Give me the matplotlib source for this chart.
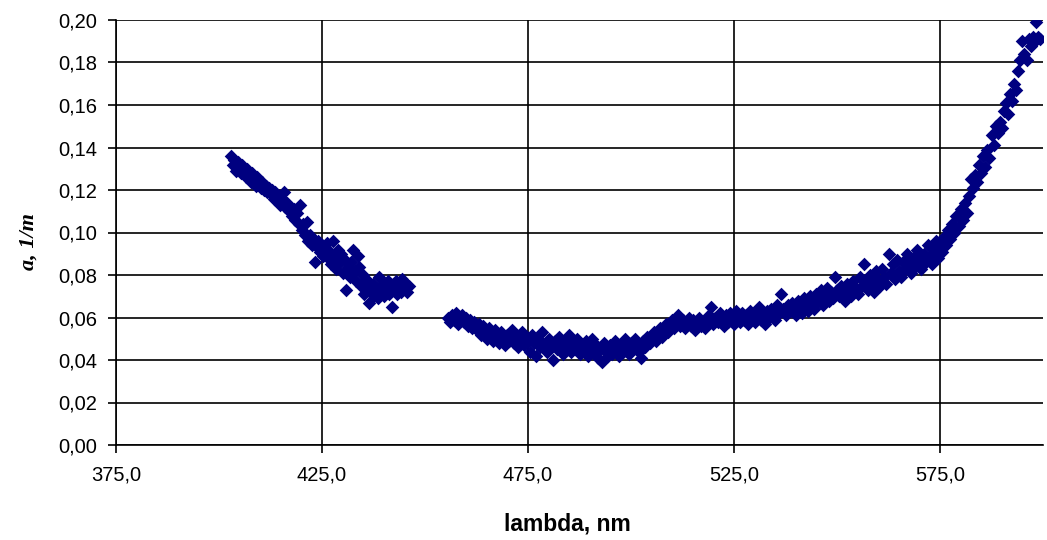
import matplotlib.pyplot as plt
from matplotlib.ticker import FuncFormatter, MultipleLocator

# absorption spectrum, two measured segments
wl_blue = [403.0, 403.3, 403.7, 404.1, 404.5, 404.9, 405.3, 405.7, 406.1, 406.5,
           406.9, 407.3, 407.7, 408.1, 408.5, 408.9, 409.3, 409.7, 410.1, 410.5,
           410.9, 411.3, 411.7, 412.1, 412.5, 412.9, 413.3, 413.7, 414.1, 414.5,
           414.9, 415.3, 415.7, 416.1, 416.5, 416.9, 417.3, 417.7, 418.1, 418.5,
           418.9, 419.3, 419.7, 420.1, 420.5, 420.9, 421.3, 421.7, 422.1, 422.5,
           422.9, 423.3, 423.7, 424.1, 424.5, 424.9, 425.3, 425.7, 426.1, 426.5,
           426.9, 427.3, 427.7, 428.1, 428.5, 428.9, 429.3, 429.7, 430.1, 430.5,
           430.9, 431.3, 431.7, 432.1, 432.5, 432.9, 433.3, 433.7, 434.1, 434.5,
           434.9, 435.3, 435.7, 436.1, 436.5, 436.9, 437.3, 437.7, 438.1, 438.5,
           438.9, 439.3, 439.7, 440.1, 440.5, 440.9, 441.3, 441.7, 442.1, 442.5,
           442.9, 443.3, 443.7, 444.1, 444.5, 444.9, 445.3, 445.7, 446.1]
a_blue = [0.136, 0.132, 0.134, 0.129, 0.133, 0.131, 0.128, 0.132, 0.129, 0.126,
          0.130, 0.127, 0.124, 0.128, 0.125, 0.122, 0.126, 0.123, 0.121, 0.124,
          0.120, 0.122, 0.119, 0.121, 0.118, 0.120, 0.116, 0.119, 0.115, 0.117,
          0.113, 0.116, 0.119, 0.112, 0.114, 0.110, 0.112, 0.108, 0.111, 0.106,
          0.109, 0.104, 0.113, 0.101, 0.104, 0.099, 0.105, 0.096, 0.099, 0.094,
          0.097, 0.086, 0.093, 0.096, 0.091, 0.094, 0.089, 0.092, 0.095, 0.088,
          0.091, 0.085, 0.096, 0.089, 0.083, 0.092, 0.086, 0.090, 0.081, 0.087,
          0.073, 0.084, 0.079, 0.086, 0.092, 0.082, 0.077, 0.089, 0.084, 0.075,
          0.080, 0.071, 0.078, 0.074, 0.067, 0.072, 0.076, 0.070, 0.074, 0.069,
          0.079, 0.072, 0.076, 0.070, 0.074, 0.077, 0.071, 0.075, 0.065, 0.073,
          0.077, 0.071, 0.075, 0.072, 0.078, 0.074, 0.076, 0.072, 0.075]

wl_main = [455.5, 456.0, 456.5, 457.0, 457.5, 458.0, 458.5, 459.0, 459.5, 460.0,
           460.5, 461.0, 461.5, 462.0, 462.5, 463.0, 463.5, 464.0, 464.5, 465.0,
           465.5, 466.0, 466.5, 467.0, 467.5, 468.0, 468.5, 469.0, 469.5, 470.0,
           470.5, 471.0, 471.5, 472.0, 472.5, 473.0, 473.5, 474.0, 474.5, 475.0,
           475.5, 476.0, 476.5, 477.0, 477.5, 478.0, 478.5, 479.0, 479.5, 480.0,
           480.5, 481.0, 481.5, 482.0, 482.5, 483.0, 483.5, 484.0, 484.5, 485.0,
           485.5, 486.0, 486.5, 487.0, 487.5, 488.0, 488.5, 489.0, 489.5, 490.0,
           490.5, 491.0, 491.5, 492.0, 492.5, 493.0, 493.5, 494.0, 494.5, 495.0,
           495.5, 496.0, 496.5, 497.0, 497.5, 498.0, 498.5, 499.0, 499.5, 500.0,
           500.5, 501.0, 501.5, 502.0, 502.5, 503.0, 503.5, 504.0, 504.5, 505.0,
           505.5, 506.0, 506.5, 507.0, 507.5, 508.0, 508.5, 509.0, 509.5, 510.0,
           510.5, 511.0, 511.5, 512.0, 512.5, 513.0, 513.5, 514.0, 514.5, 515.0,
           515.5, 516.0, 516.5, 517.0, 517.5, 518.0, 518.5, 519.0, 519.5, 520.0,
           520.5, 521.0, 521.5, 522.0, 522.5, 523.0, 523.5, 524.0, 524.5, 525.0,
           525.5, 526.0, 526.5, 527.0, 527.5, 528.0, 528.5, 529.0, 529.5, 530.0,
           530.5, 531.0, 531.5, 532.0, 532.5, 533.0, 533.5, 534.0, 534.5, 535.0,
           535.5, 536.0, 536.5, 537.0, 537.5, 538.0, 538.5, 539.0, 539.5, 540.0,
           540.5, 541.0, 541.5, 542.0, 542.5, 543.0, 543.5, 544.0, 544.5, 545.0,
           545.5, 546.0, 546.5, 547.0, 547.5, 548.0, 548.5, 549.0, 549.5, 550.0,
           550.5, 551.0, 551.5, 552.0, 552.5, 553.0, 553.5, 554.0, 554.5, 555.0,
           555.5, 556.0, 556.5, 557.0, 557.5, 558.0, 558.5, 559.0, 559.5, 560.0,
           560.5, 561.0, 561.5, 562.0, 562.5, 563.0, 563.5, 564.0, 564.5, 565.0,
           565.5, 566.0, 566.5, 567.0, 567.5, 568.0, 568.5, 569.0, 569.5, 570.0,
           570.5, 571.0, 571.5, 572.0, 572.5, 573.0, 573.5, 574.0, 574.5, 575.0,
           575.5, 576.0, 576.5, 577.0, 577.5, 578.0, 578.5, 579.0, 579.5, 580.0,
           580.5, 581.0, 581.5, 582.0, 582.5, 583.0, 583.5, 584.0, 584.5, 585.0,
           585.5, 586.0, 586.5, 587.0, 587.5, 588.0, 588.5, 589.0, 589.5, 590.0,
           590.5, 591.0, 591.5, 592.0, 592.5, 593.0, 593.5, 594.0, 594.5, 595.0,
           595.5, 596.0, 596.5, 597.0, 597.5, 598.0, 598.3, 598.8, 599.3]
a_main = [0.060, 0.058, 0.061, 0.059, 0.062, 0.057, 0.060, 0.061, 0.058, 0.060,
          0.056, 0.059, 0.055, 0.058, 0.054, 0.057, 0.052, 0.056, 0.053, 0.050,
          0.055, 0.052, 0.049, 0.054, 0.051, 0.048, 0.053, 0.050, 0.047, 0.052,
          0.049, 0.054, 0.048, 0.051, 0.046, 0.050, 0.053, 0.047, 0.051, 0.049,
          0.044, 0.052, 0.048, 0.042, 0.050, 0.046, 0.053, 0.047, 0.044, 0.050,
          0.046, 0.040, 0.049, 0.045, 0.051, 0.047, 0.043, 0.049, 0.046, 0.052,
          0.044, 0.048, 0.045, 0.050, 0.043, 0.047, 0.044, 0.049, 0.042, 0.046,
          0.050, 0.043, 0.047, 0.041, 0.045, 0.039, 0.048, 0.044, 0.042, 0.047,
          0.043, 0.049, 0.045, 0.042, 0.047, 0.044, 0.050, 0.046, 0.043, 0.048,
          0.045, 0.050, 0.047, 0.044, 0.041, 0.049, 0.046, 0.051, 0.048, 0.050,
          0.053, 0.049, 0.052, 0.055, 0.051, 0.054, 0.057, 0.053, 0.056, 0.059,
          0.055, 0.058, 0.061, 0.056, 0.059, 0.055, 0.058, 0.060, 0.056, 0.059,
          0.054, 0.057, 0.060, 0.056, 0.058, 0.055, 0.059, 0.061, 0.065, 0.057,
          0.060, 0.058, 0.062, 0.059, 0.056, 0.061, 0.058, 0.062, 0.060, 0.057,
          0.063, 0.060, 0.058, 0.062, 0.059, 0.061, 0.057, 0.063, 0.060, 0.058,
          0.062, 0.065, 0.059, 0.061, 0.057, 0.063, 0.060, 0.064, 0.061, 0.059,
          0.066, 0.062, 0.071, 0.064, 0.061, 0.066, 0.063, 0.067, 0.064, 0.061,
          0.068, 0.065, 0.062, 0.069, 0.066, 0.063, 0.070, 0.067, 0.064, 0.071,
          0.068, 0.073, 0.066, 0.070, 0.074, 0.068, 0.072, 0.069, 0.079, 0.073,
          0.070, 0.075, 0.071, 0.068, 0.076, 0.073, 0.070, 0.077, 0.074, 0.071,
          0.079, 0.075, 0.085, 0.077, 0.073, 0.080, 0.076, 0.072, 0.082, 0.078,
          0.075, 0.083, 0.079, 0.076, 0.090, 0.081, 0.085, 0.078, 0.087, 0.082,
          0.079, 0.086, 0.083, 0.090, 0.085, 0.081, 0.088, 0.084, 0.092, 0.087,
          0.083, 0.090, 0.086, 0.094, 0.089, 0.085, 0.092, 0.096, 0.088, 0.094,
          0.091, 0.098, 0.094, 0.101, 0.097, 0.104, 0.100, 0.108, 0.103, 0.111,
          0.106, 0.114, 0.109, 0.117, 0.125, 0.121, 0.127, 0.124, 0.132, 0.128,
          0.136, 0.131, 0.139, 0.135, 0.146, 0.141, 0.150, 0.147, 0.152, 0.149,
          0.157, 0.161, 0.156, 0.165, 0.162, 0.170, 0.167, 0.176, 0.181, 0.190,
          0.184, 0.181, 0.191, 0.188, 0.192, 0.190, 0.199, 0.192, 0.191]

x_ticks = [375, 425, 475, 525, 575]

fig = plt.figure(figsize=(10.47, 5.4), dpi=100)
ax = fig.add_axes([116 / 1047, 1 - 445 / 540, (1043 - 116) / 1047, (445 - 20) / 540])

navy = '#000080'
ax.scatter(wl_blue, a_blue, marker='D', s=48, color=navy, linewidths=0, zorder=3)
ax.scatter(wl_main, a_main, marker='D', s=48, color=navy, linewidths=0, zorder=3)

ax.set_xlim(375, 600)
ax.set_ylim(0, 0.20)
ax.set_xticks(x_ticks)
ax.yaxis.set_major_locator(MultipleLocator(0.02))
ax.xaxis.set_major_formatter(FuncFormatter(lambda v, p: f"{v:.1f}".replace('.', ',')))
ax.yaxis.set_major_formatter(FuncFormatter(lambda v, p: f"{v:.2f}".replace('.', ',')))

ax.grid(True, color='black', linewidth=1.2)
ax.set_axisbelow(True)
for side in ['top', 'right']:
    ax.spines[side].set_visible(False)
for side in ['left', 'bottom']:
    ax.spines[side].set_linewidth(1.2)

ax.tick_params(direction='out', length=5.5, width=1.2, labelsize=14.5)
ax.tick_params(axis='y', pad=8)
ax.tick_params(axis='x', pad=9)
for lbl in ax.get_xticklabels() + ax.get_yticklabels():
    lbl.set_fontfamily('Liberation Sans')

ax.set_xlabel('lambda, nm', fontfamily='Liberation Sans', fontweight='bold',
              fontsize=16.5)
ax.set_ylabel('a, 1/m', fontfamily='Liberation Serif', fontweight='bold',
              fontstyle='italic', fontsize=16)
ax.xaxis.set_label_coords(0.4865, -0.158)
ax.yaxis.set_label_coords(-0.084, 0.478)

fig.savefig('out.png', dpi=100)
